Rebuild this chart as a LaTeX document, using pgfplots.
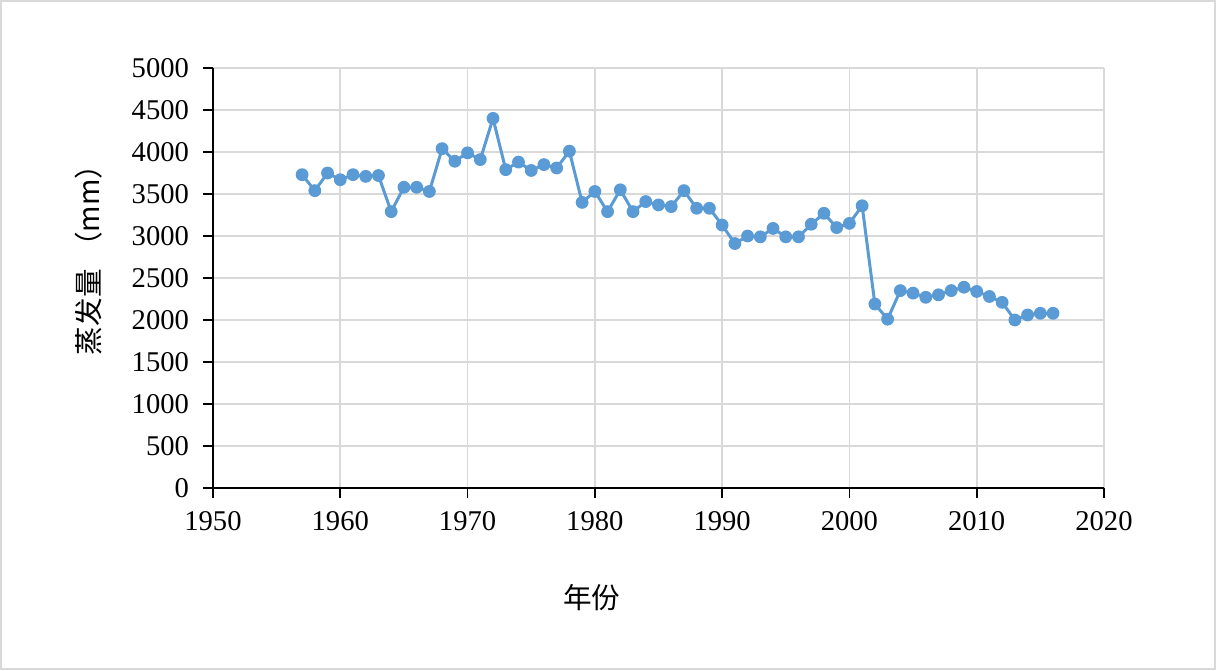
\documentclass[border=0pt]{standalone}
\usepackage{pgfplots}
\pgfplotsset{compat=1.18}
\usepackage{fontspec}
\setmainfont{Liberation Serif}
\newfontfamily\cjk{Noto Sans CJK SC}
\definecolor{ser}{HTML}{5B9BD5}
\definecolor{gridc}{HTML}{D9D9D9}
\begin{document}
\begin{tikzpicture}
\draw[color=gridc, line width=1pt] (-106pt,-90.5pt) rectangle (501pt,243.5pt);
\begin{axis}[
  at={(0,0)}, anchor=south west,
  scale only axis, width=445.5pt, height=210pt,
  xmin=1950, xmax=2020, ymin=0, ymax=5000,
  xtick={1950,1960,...,2020}, ytick={0,500,...,5000},
  axis x line*=bottom, axis y line*=left,
  axis line style={black, line width=0.9pt},
  tick align=outside, major tick length=5pt,
  tick style={black, line width=0.9pt},
  grid=major, major grid style={gridc, line width=0.9pt},
  font=\fontsize{14.3}{16}\selectfont,
  /pgf/number format/assume math mode=true,
  /pgf/number format/1000 sep={},
  xticklabel style={yshift=-3pt},
  yticklabel style={xshift=-3.5pt},
  xlabel={\cjk 年份},
  ylabel={\cjk 蒸发量\hspace{0.3em}（mm）},
  xlabel style={at={(axis description cs:0.425,-0.26)}, anchor=center},
  ylabel style={at={(axis description cs:-0.14,0.56)}, anchor=center},
  clip=false,
]
\addplot[color=ser, line width=1.5pt, mark=*, mark size=2.9pt, mark options={fill=ser, draw=ser, line width=0.6pt, solid}] coordinates {
(1957,3730)(1958,3540)(1959,3750)(1960,3670)(1961,3730)(1962,3710)(1963,3720)
(1964,3290)(1965,3580)(1966,3580)(1967,3530)(1968,4040)(1969,3890)(1970,3990)
(1971,3910)(1972,4400)(1973,3790)(1974,3880)(1975,3780)(1976,3850)(1977,3810)
(1978,4010)(1979,3400)(1980,3530)(1981,3290)(1982,3550)(1983,3290)(1984,3410)
(1985,3370)(1986,3350)(1987,3540)(1988,3330)(1989,3330)(1990,3130)(1991,2910)
(1992,3000)(1993,2990)(1994,3090)(1995,2990)(1996,2990)(1997,3140)(1998,3270)
(1999,3100)(2000,3150)(2001,3360)(2002,2190)(2003,2010)(2004,2350)(2005,2320)
(2006,2270)(2007,2300)(2008,2350)(2009,2390)(2010,2340)(2011,2280)(2012,2210)
(2013,2000)(2014,2060)(2015,2080)(2016,2080)
};
\end{axis}
\end{tikzpicture}
\end{document}
